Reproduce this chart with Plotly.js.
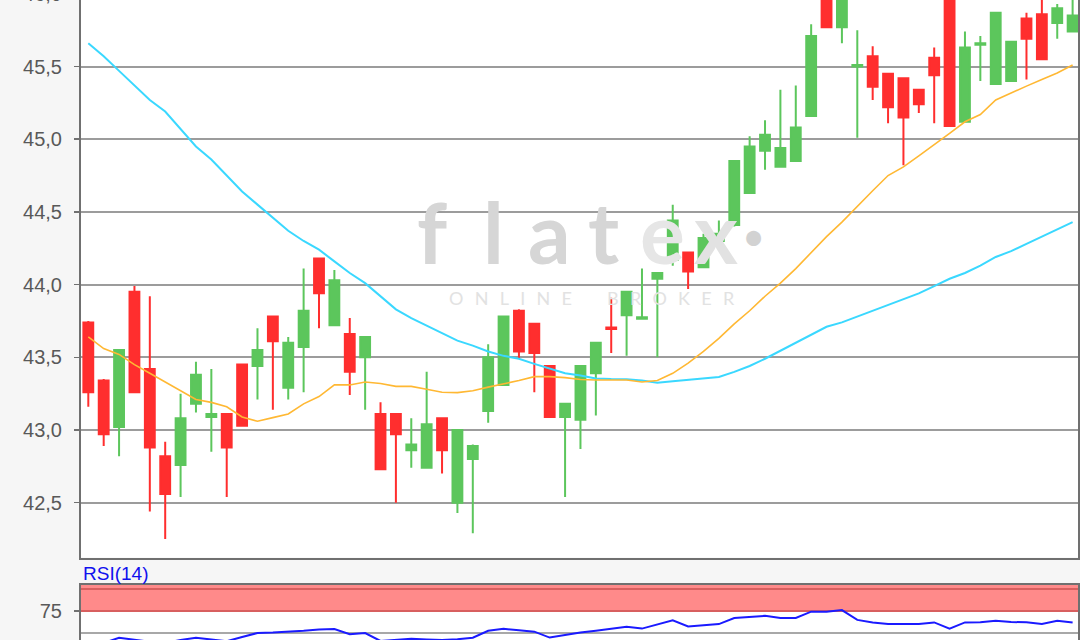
<!DOCTYPE html>
<html>
<head>
<meta charset="utf-8">
<script src="https://cdn.plot.ly/plotly-3.0.1.min.js"></script>
<style>
html,body{margin:0;padding:0;width:1080px;height:640px;overflow:hidden;background:#f6f6f6;}
#chart{position:absolute;left:0;top:-20px;width:1080px;height:740px;}
</style>
</head>
<body>
<div id="chart"></div>
<script>
// ---- data ----
const openP  = [43.74,43.34,43.02,43.95,43.42,42.82,42.76,43.18,43.09,43.11,43.45,43.44,43.78,43.29,43.57,44.18,43.72,43.66,43.50,43.11,43.11,42.86,42.74,43.08,42.50,42.80,43.13,43.31,43.82,43.73,43.44,43.09,43.07,43.39,43.705,43.79,43.765,44.04,44.17,44.22,44.12,44.30,44.41,44.63,44.92,44.81,44.85,45.16,46.05,45.77,45.50,45.57,45.45,45.42,45.34,45.56,46.05,45.12,45.65,45.38,45.40,45.83,45.86,45.80,45.74];
const highP  = [43.75,43.35,43.55,43.99,43.92,42.92,43.25,43.47,43.42,43.11,43.45,43.70,43.78,43.64,44.11,44.18,44.10,43.77,43.64,43.19,43.11,43.08,43.40,43.08,43.00,42.90,43.59,43.78,43.83,43.73,43.44,43.18,43.44,43.60,43.91,43.95,44.11,44.08,44.55,44.22,44.35,44.44,44.85,45.02,45.13,45.34,45.37,45.79,46.10,46.08,45.75,45.64,45.45,45.42,45.34,45.63,46.08,45.74,45.71,45.87,45.67,45.87,45.97,45.93,45.98];
const lowP   = [43.16,42.89,42.82,43.26,42.44,42.25,42.54,43.12,42.85,42.54,43.03,43.21,43.14,43.21,43.26,43.70,43.72,43.24,43.14,42.73,42.50,42.74,42.74,42.70,42.43,42.29,43.05,43.31,43.49,43.26,43.09,42.54,42.87,43.10,43.53,43.51,43.765,43.50,44.13,43.97,44.12,44.26,44.40,44.63,44.79,44.81,44.85,45.16,45.77,45.66,45.01,45.27,45.11,44.82,45.18,45.11,45.09,45.12,45.40,45.38,45.40,45.41,45.55,45.69,45.74];
const closeP = [43.26,42.97,43.55,43.26,42.88,42.56,43.08,43.38,43.11,42.88,43.03,43.55,43.61,43.60,43.82,43.94,44.03,43.40,43.64,42.73,42.97,42.90,43.04,42.86,43.00,42.89,43.50,43.78,43.54,43.53,43.09,43.18,43.44,43.60,43.695,43.95,43.775,44.08,44.44,44.09,44.32,44.35,44.85,44.95,45.03,44.94,45.08,45.71,45.77,46.02,45.51,45.36,45.22,45.15,45.24,45.44,45.09,45.63,45.66,45.87,45.67,45.69,45.55,45.90,45.85];
const maShort = [43.64,43.56,43.52,43.45,43.39,43.33,43.27,43.21,43.19,43.16,43.09,43.06,43.085,43.11,43.18,43.23,43.31,43.31,43.33,43.32,43.30,43.30,43.28,43.26,43.257,43.27,43.295,43.315,43.34,43.367,43.367,43.36,43.347,43.344,43.344,43.344,43.33,43.34,43.39,43.46,43.54,43.63,43.73,43.82,43.92,44.01,44.11,44.22,44.33,44.43,44.54,44.645,44.75,44.81,44.885,44.96,45.04,45.12,45.17,45.27,45.32,45.365,45.41,45.455,45.51];
const maLong = [45.66,45.57,45.47,45.37,45.27,45.19,45.07,44.95,44.86,44.75,44.64,44.55,44.46,44.37,44.30,44.24,44.16,44.08,44.01,43.92,43.83,43.77,43.72,43.67,43.615,43.58,43.54,43.51,43.49,43.455,43.42,43.39,43.375,43.355,43.35,43.349,43.34,43.325,43.335,43.345,43.35,43.365,43.40,43.44,43.49,43.545,43.60,43.65,43.71,43.74,43.78,43.82,43.86,43.90,43.94,43.99,44.04,44.08,44.13,44.19,44.23,44.28,44.33,44.38,44.43];
const rsi = [40.5,38.6,44.5,42,40,38.6,42,44.5,42.5,40.6,45.5,50,50.5,51.3,52.5,54,54.5,48.7,50,41,42,43.4,42.7,42,43,44.7,52.5,54.8,53,51.5,44.8,48,50.5,52.5,55,57.2,55,60,64.5,57.5,58.8,60.1,67,68.5,69.5,67,67,74.2,74.2,76,64.9,62,60.1,60.1,60.1,62,55,62,62.1,64,62.5,62.1,60.3,64,62];
const priceTicks = [42.5,43.0,43.5,44.0,44.5,45.0,45.5,46.0];
const rsiTicks = [75];
const rsiLabel = 'RSI(14)';

// ---- chart ----
const idx = openP.map((_, i) => i);
const green = '#5cc65c', red = '#ff2e2e';

const traces = [
  {type:'scatter', mode:'lines', x:idx, y:maLong, xaxis:'x', yaxis:'y',
   line:{color:'#3ad8ff', width:2}, hoverinfo:'skip'},
  {type:'scatter', mode:'lines', x:idx, y:maShort, xaxis:'x', yaxis:'y',
   line:{color:'#ffb833', width:1.6}, hoverinfo:'skip'},
  {type:'candlestick', x:idx, open:openP, high:highP, low:lowP, close:closeP,
   xaxis:'x', yaxis:'y', whiskerwidth:0,
   increasing:{line:{color:green, width:2}, fillcolor:green},
   decreasing:{line:{color:red, width:2}, fillcolor:red}},
  {type:'scatter', mode:'lines', x:idx, y:rsi, xaxis:'x2', yaxis:'y2',
   line:{color:'#1a1aff', width:2}, hoverinfo:'skip'}
];

const axisFont = {family:'Liberation Sans, Arial, sans-serif', size:20, color:'#595959'};
const xr = [-0.475, 64.35];

const wm = (t, x, y, size, color, weight) => ({text:t, xref:'paper', yref:'paper',
  x:(x-81)/997, y:(740-(y+20))/740, xanchor:'center', yanchor:'middle', showarrow:false,
  font:{family:'Lato, Open Sans, sans-serif', size:size, color:color, weight:weight||'normal'}});

const sp = '\u2002\u2009';
const layout = {
  width:1080, height:740,
  margin:{l:81, r:2, t:0, b:0},
  paper_bgcolor:'#f6f6f6', plot_bgcolor:'#ffffff',
  showlegend:false, separators:',.',
  boxgap:0.2, boxgroupgap:0.2,
  xaxis:{domain:[0,1], range:xr, showticklabels:false, ticks:'', showgrid:false, zeroline:false,
         rangeslider:{visible:false}, showline:true, mirror:true, linecolor:'#707070', linewidth:2, anchor:'y'},
  yaxis:{domain:[0.21959,0.99324], range:[42.1231,46.0605], tickvals:priceTicks, tickformat:'.1f',
         ticks:'outside', ticklen:5, tickwidth:1.5, tickcolor:'#707070', ticklabelstandoff:8,
         showgrid:true, gridcolor:'#9c9c9c', gridwidth:2, zeroline:false,
         showline:true, mirror:true, linecolor:'#707070', linewidth:2, tickfont:axisFont, anchor:'x'},
  xaxis2:{domain:[0,1], range:xr, matches:'x', showticklabels:false, ticks:'', showgrid:false, zeroline:false,
          showline:true, mirror:true, linecolor:'#707070', linewidth:2, anchor:'y2'},
  yaxis2:{domain:[0.02703,0.18243], range:[-26.1,104.5], tickvals:rsiTicks,
          ticks:'outside', ticklen:5, tickwidth:1.5, tickcolor:'#707070', ticklabelstandoff:8,
          showgrid:false, zeroline:false, showline:true, mirror:true, linecolor:'#707070', linewidth:2,
          tickfont:axisFont, anchor:'x2'},
  shapes:[
    {type:'rect', xref:'x2 domain', yref:'y2', x0:0, x1:1, y0:75, y1:104.5, fillcolor:'#ff8a8a', line:{width:0}, layer:'below'},
    {type:'line', xref:'x2 domain', yref:'y2', x0:0, x1:1, y0:100, y1:100, line:{color:'#d85f5f', width:2}, layer:'below'},
    {type:'line', xref:'x2 domain', yref:'y2', x0:0, x1:1, y0:75, y1:75, line:{color:'#d85f5f', width:2}, layer:'below'},
    {type:'line', xref:'x2 domain', yref:'y2', x0:0, x1:1, y0:50, y1:50, line:{color:'#a8a8a8', width:2}, layer:'below'}
  ],
  annotations:[
    wm('f', 432, 232, 84, '#d6d6d6', 'bold'),
    wm('l', 493, 232, 84, '#d6d6d6', 'bold'),
    wm('a', 549, 232, 84, '#d6d6d6', 'bold'),
    wm('t', 603, 232, 84, '#d6d6d6', 'bold'),
    wm('e', 662, 232, 84, '#e6e6e6', 'bold'),
    wm('x', 716, 232, 84, '#e2e2e2', 'bold'),
    wm('\u2022', 753, 236, 40, '#d2d2d2'),
    wm(['O','N','L','I','N','E'].join(sp), 510, 298, 18, '#e2e2e2'),
    wm(['B','R','O','K','E','R'].join(sp), 671, 298, 18, '#e2e2e2'),
    {text:rsiLabel, xref:'paper', yref:'paper', x:0, y:(740-(573+20))/740, xanchor:'left', yanchor:'middle',
     showarrow:false, font:{family:'Liberation Sans, Arial, sans-serif', size:19, color:'#1010ee'}}
  ]
};

Plotly.newPlot('chart', traces, layout, {displayModeBar:false, staticPlot:true});
</script>
</body>
</html>
